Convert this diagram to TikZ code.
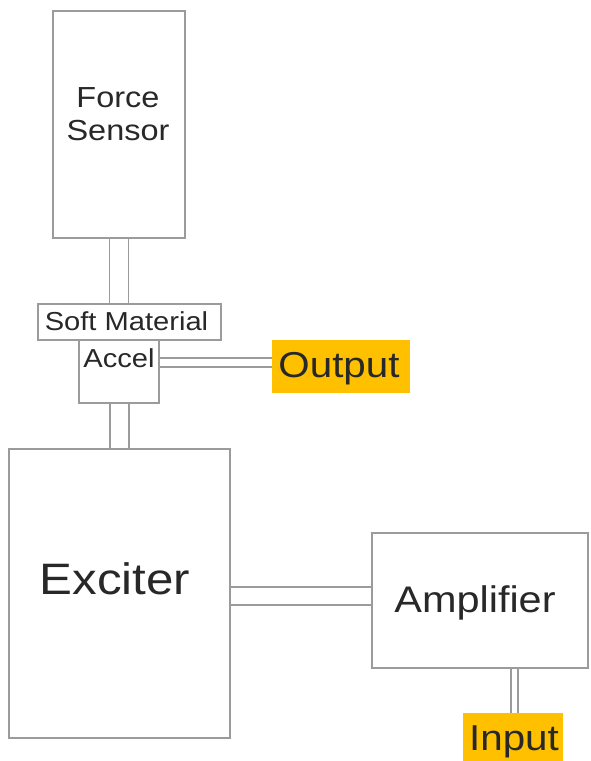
\documentclass[tikz,border=0pt]{standalone}
\usepackage{fontspec}
\setmainfont{Liberation Sans}[FakeStretch=1.12]
\usetikzlibrary{backgrounds}
\definecolor{linegray}{RGB}{155,155,155}
\definecolor{txt}{RGB}{40,40,40}
\definecolor{gold}{RGB}{255,192,0}
\tikzset{
  blockbox/.style={draw=linegray, line width=1.1pt, inner sep=0pt, outer sep=0pt},
  tagbox/.style={fill=gold, inner sep=0pt, outer sep=0pt},
  conn/.style={draw=linegray, line width=1.1pt},
  lbl/.style={text=txt, inner sep=0pt, align=center}
}
\begin{document}
\begin{tikzpicture}[x=1pt,y=-1pt]
\clip (0,0) rectangle (590,761);
% boxes
\node[blockbox, minimum width=132pt, minimum height=227pt] (fs) at (119,124.5) {};
\node[blockbox, minimum width=183pt, minimum height=36pt] (sm) at (129.5,322) {};
\node[blockbox, minimum width=80pt, minimum height=63pt] (ac) at (119,371.5) {};
\node[tagbox, minimum width=138pt, minimum height=53pt] (out) at (341,366.5) {};
\node[blockbox, minimum width=221pt, minimum height=289pt] (ex) at (119.5,593.5) {};
\node[blockbox, minimum width=216pt, minimum height=135pt] (amp) at (480,600.5) {};
\node[tagbox, minimum width=100pt, minimum height=56pt] (in) at (513,741) {};
% connectors
\begin{scope}[on background layer]
\fill[white] (0,0) rectangle (590,761);
\draw[conn] ([xshift=-9.5pt]fs.south) rectangle ([xshift=9.5pt]fs.south |- sm.north);
\draw[conn] ([xshift=-9pt]ac.south) rectangle ([xshift=10pt]ac.south |- ex.north);
\draw[conn] ([yshift=13.5pt]ac.east) rectangle ([yshift=4.5pt,xshift=2pt]ac.east -| out.west);
\draw[conn] ([yshift=6.5pt]ex.east) rectangle ([yshift=-11.5pt]ex.east -| amp.west);
\draw[conn] ([xshift=31pt]amp.south) rectangle ([xshift=38pt,yshift=-2pt]amp.south |- in.north);
\end{scope}
% labels
\node[lbl, font=\fontsize{29}{33}\selectfont] (tfs) at (118,114) {Force\\Sensor};
\node[lbl, anchor=base, font=\fontsize{26}{30}\selectfont] (tsm) at (126.5,330) {Soft Material};
\node[lbl, anchor=base, font=\fontsize{26}{30}\selectfont] (tac) at (119,367) {Accel};
\node[lbl, anchor=base, font=\fontsize{36}{40}\selectfont] (tout) at (339,377) {Output};
\node[lbl, anchor=base, font=\fontsize{44}{50}\selectfont] (tex) at (115,594) {Exciter};
\node[lbl, anchor=base, font=\fontsize{37}{42}\selectfont] (tamp) at (475,612) {Amplifier};
\node[lbl, anchor=base, font=\fontsize{36}{40}\selectfont] (tin) at (514,750) {Input};
\end{tikzpicture}
\end{document}
